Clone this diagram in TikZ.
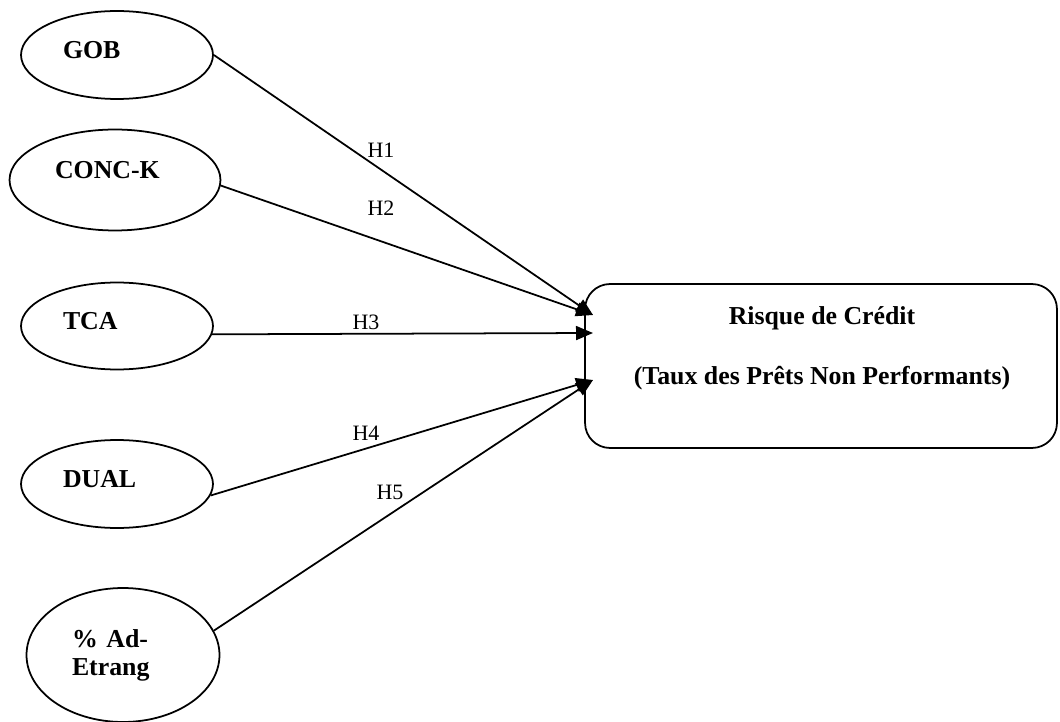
\documentclass[tikz,border=0pt]{standalone}
\usepackage{fontspec}
\setmainfont{Liberation Serif}
\usetikzlibrary{arrows.meta, shapes.geometric}

\begin{document}
\begin{tikzpicture}[x = 0.02cm, y = -0.02cm, line width = 1pt,
		var/.style = {ellipse, draw, inner sep = 0pt, text width = 2.16cm, align = left,
			font = \bfseries\fontsize{14.7}{16}\selectfont},
		hyp/.style = {inner sep = 0pt, font = \fontsize{12.5}{14}\selectfont},
		link/.style = {-{Triangle[length = 0.34cm, width = 0.28cm]}}]
			\useasboundingbox (0,0) rectangle (1060,722);

			\begin{scope}
				\node [var, text depth = 0.2cm, minimum width = 3.84cm, minimum height = 1.76cm] (gob) at (117,55) {GOB};
				\node [var, text width = 2.4cm, text depth = 0.4cm, minimum width = 4.22cm, minimum height = 2.02cm] (conck) at (115,180) {CONC-K};
				\node [var, text depth = 0.2cm, minimum width = 3.84cm, minimum height = 1.74cm] (tca) at (117,326) {TCA};
				\node [var, text depth = 0.2cm, minimum width = 3.84cm, minimum height = 1.76cm] (dual) at (117,484) {DUAL};
				\node [var, text width = 2.04cm, minimum width = 3.86cm, minimum height = 2.68cm] (adetr) at (123,655) {\% Ad-\\Etrang};
			\end{scope}

			\begin{scope}
				\node [draw, rounded corners = 0.5cm, minimum width = 9.44cm, minimum height = 3.28cm] (risk) at (821,366) {};
				\node [font = \bfseries\fontsize{14.7}{16}\selectfont] (riskname) at (822,318) {Risque de Crédit};
				\node [font = \bfseries\fontsize{14.7}{16}\selectfont] (riskmeas) at (822,378) {(Taux des Prêts Non Performants)};
				\coordinate (in1) at (593,315);
				\coordinate (in2) at (593,333);
				\coordinate (in3) at (593,380);
			\end{scope}

			\begin{scope}[link]
				\draw (gob.east) -- (in1);
				\draw (conck.357) -- (in1);
				\draw (tca.355) -- (in2);
				\draw (dual.353) -- (in3);
				\draw (adetr.15) -- (in3);
			\end{scope}

			\begin{scope}
				\node [hyp] (h1) at (381,150) {H1};
				\node [hyp] (h2) at (381,208) {H2};
				\node [hyp] (h3) at (366,322) {H3};
				\node [hyp] (h4) at (366,433) {H4};
				\node [hyp] (h5) at (390,492) {H5};
			\end{scope}
		\end{tikzpicture}
\end{document}
